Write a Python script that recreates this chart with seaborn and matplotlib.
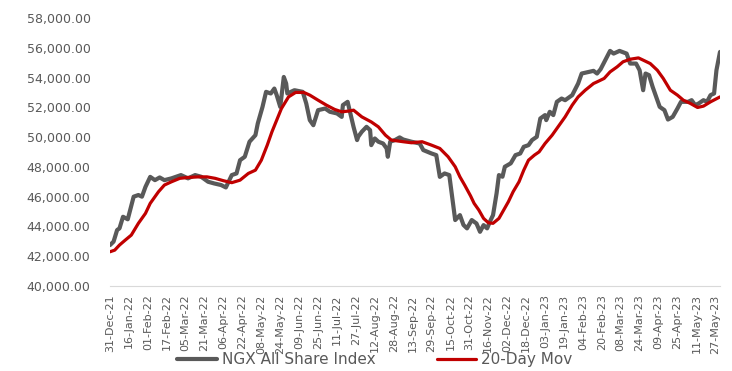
import pandas as pd
import matplotlib
matplotlib.use('Agg')
import matplotlib.pyplot as plt
import matplotlib.dates as mdates
import seaborn as sns

sns.set_style('white')
plt.rcParams['font.family'] = ['DejaVu Sans']

GREY = '#595959'
RED = '#C00000'

# NGX All Share Index
asi_dates = [
    '2021-12-31', '2022-01-03', '2022-01-06', '2022-01-08', '2022-01-11', '2022-01-15',
    '2022-01-20', '2022-01-24', '2022-01-27', '2022-01-30', '2022-02-03', '2022-02-07',
    '2022-02-11', '2022-02-15', '2022-02-21', '2022-03-01', '2022-03-07', '2022-03-13',
    '2022-03-18', '2022-03-24', '2022-03-29', '2022-04-04', '2022-04-08', '2022-04-13',
    '2022-04-17', '2022-04-20', '2022-04-24', '2022-04-28', '2022-05-03', '2022-05-05',
    '2022-05-09', '2022-05-12', '2022-05-16', '2022-05-19', '2022-05-21', '2022-05-24',
    '2022-05-27', '2022-05-29', '2022-05-30', '2022-06-05', '2022-06-12', '2022-06-15',
    '2022-06-18', '2022-06-21', '2022-06-25', '2022-07-01', '2022-07-05', '2022-07-11',
    '2022-07-15', '2022-07-16', '2022-07-20', '2022-07-25', '2022-07-28', '2022-07-29',
    '2022-08-01', '2022-08-05', '2022-08-08', '2022-08-09', '2022-08-12', '2022-08-15',
    '2022-08-19', '2022-08-22', '2022-08-23', '2022-08-25', '2022-08-29', '2022-09-02',
    '2022-09-05', '2022-09-12', '2022-09-19', '2022-09-22', '2022-09-29', '2022-10-03',
    '2022-10-06', '2022-10-10', '2022-10-14', '2022-10-19', '2022-10-23', '2022-10-26',
    '2022-10-29', '2022-11-02', '2022-11-06', '2022-11-09', '2022-11-12', '2022-11-15',
    '2022-11-18', '2022-11-20', '2022-11-23', '2022-11-25', '2022-11-28', '2022-11-30',
    '2022-12-05', '2022-12-09', '2022-12-13', '2022-12-16', '2022-12-20', '2022-12-23',
    '2022-12-27', '2022-12-30', '2023-01-03', '2023-01-04', '2023-01-07', '2023-01-10',
    '2023-01-13', '2023-01-17', '2023-01-20', '2023-01-26', '2023-01-31', '2023-02-03',
    '2023-02-09', '2023-02-13', '2023-02-16', '2023-02-19', '2023-02-23', '2023-02-27',
    '2023-03-02', '2023-03-07', '2023-03-13', '2023-03-16', '2023-03-21', '2023-03-24',
    '2023-03-27', '2023-03-29', '2023-04-01', '2023-04-04', '2023-04-07', '2023-04-10',
    '2023-04-14', '2023-04-17', '2023-04-21', '2023-04-25', '2023-04-28', '2023-05-04',
    '2023-05-07', '2023-05-10', '2023-05-13', '2023-05-17', '2023-05-20', '2023-05-23',
    '2023-05-26', '2023-05-28', '2023-05-31',
]
asi_values = [
    42750, 42980, 43760, 43870, 44650, 44480,
    46000, 46110, 46000, 46660, 47330, 47110,
    47290, 47110, 47230, 47450, 47230, 47450,
    47340, 47000, 46890, 46780, 46620, 47450,
    47560, 48450, 48680, 49690, 50130, 50920,
    52030, 53040, 52930, 53260, 52820, 52030,
    54040, 53600, 52930, 53150, 53040, 52260,
    51140, 50800, 51810, 51920, 51700, 51590,
    51360, 52150, 52370, 50690, 49800, 50030,
    50360, 50690, 50470, 49460, 49910, 49690,
    49570, 49240, 48680, 49690, 49800, 49980,
    49840, 49690, 49570, 49130, 48900, 48790,
    47330, 47560, 47450, 44430, 44760, 44100,
    43870, 44430, 44200, 43640, 44090, 43870,
    44430, 44760, 46220, 47450, 47340, 48010,
    48240, 48790, 48900, 49350, 49460, 49800,
    50020, 51250, 51480, 51140, 51700, 51480,
    52370, 52590, 52480, 52820, 53600, 54270,
    54380, 54450, 54270, 54560, 55170, 55790,
    55610, 55790, 55610, 54940, 54940, 54490,
    53150, 54270, 54160, 53380, 52700, 52030,
    51810, 51180, 51360, 51920, 52370, 52370,
    52480, 52150, 52260, 52480, 52370, 52820,
    52930, 54490, 55720,
]

# 20-day moving average
ma_dates = [
    '2021-12-31', '2022-01-04', '2022-01-08', '2022-01-13', '2022-01-18', '2022-01-24',
    '2022-01-30', '2022-02-03', '2022-02-10', '2022-02-15', '2022-02-21', '2022-02-28',
    '2022-03-07', '2022-03-16', '2022-03-23', '2022-03-30', '2022-04-06', '2022-04-13',
    '2022-04-20', '2022-04-27', '2022-05-03', '2022-05-08', '2022-05-13', '2022-05-17',
    '2022-05-21', '2022-05-25', '2022-05-31', '2022-06-06', '2022-06-13', '2022-06-18',
    '2022-06-25', '2022-07-02', '2022-07-09', '2022-07-15', '2022-07-21', '2022-07-25',
    '2022-08-01', '2022-08-09', '2022-08-15', '2022-08-21', '2022-08-26', '2022-09-05',
    '2022-09-12', '2022-09-21', '2022-09-29', '2022-10-06', '2022-10-13', '2022-10-19',
    '2022-10-23', '2022-10-27', '2022-11-01', '2022-11-04', '2022-11-08', '2022-11-12',
    '2022-11-16', '2022-11-20', '2022-11-25', '2022-11-29', '2022-12-03', '2022-12-07',
    '2022-12-12', '2022-12-16', '2022-12-20', '2022-12-25', '2022-12-29', '2023-01-03',
    '2023-01-09', '2023-01-14', '2023-01-20', '2023-01-26', '2023-01-31', '2023-02-06',
    '2023-02-13', '2023-02-16', '2023-02-22', '2023-02-27', '2023-03-05', '2023-03-10',
    '2023-03-16', '2023-03-23', '2023-03-27', '2023-04-02', '2023-04-08', '2023-04-13',
    '2023-04-19', '2023-04-25', '2023-04-30', '2023-05-06', '2023-05-12', '2023-05-17',
    '2023-05-23', '2023-05-31',
]
ma_values = [
    42300, 42410, 42750, 43090, 43420, 44210,
    44880, 45550, 46330, 46780, 47000, 47230,
    47290, 47330, 47330, 47230, 47070, 46940,
    47110, 47560, 47780, 48450, 49460, 50360,
    51140, 51920, 52700, 53000, 53000, 52820,
    52480, 52150, 51860, 51700, 51750, 51810,
    51360, 51020, 50690, 50130, 49800, 49690,
    49620, 49690, 49460, 49240, 48680, 48010,
    47330, 46780, 46050, 45550, 45100, 44540,
    44250, 44210, 44540, 45100, 45660, 46330,
    47000, 47780, 48450, 48790, 49010, 49570,
    50130, 50690, 51360, 52150, 52700, 53150,
    53600, 53710, 53940, 54380, 54720, 55060,
    55230, 55320, 55170, 54940, 54490, 53940,
    53150, 52820, 52480, 52260, 51990, 52080,
    52370, 52700,
]

yticks = list(range(40000, 58001, 2000))
xtick_start, xtick_end = '2021-12-31', '2023-05-27'

asi = pd.DataFrame({'date': pd.to_datetime(asi_dates), 'value': asi_values})
ma = pd.DataFrame({'date': pd.to_datetime(ma_dates), 'value': ma_values})

fig = plt.figure(figsize=(7.32, 3.71), dpi=100)
ax = fig.add_axes([0.1503, 0.2291, 0.8333, 0.7224])

sns.lineplot(data=asi, x='date', y='value', color=GREY, lw=3.0,
             label='NGX All Share Index', ax=ax)
sns.lineplot(data=ma, x='date', y='value', color=RED, lw=2.3,
             label='20-Day Mov', ax=ax)

ax.set_xlim(pd.Timestamp('2021-12-31'), pd.Timestamp('2023-05-31'))
ax.set_ylim(40000, 58000)
ax.set_yticks(yticks)
ax.set_yticklabels([f'{v:,.2f}' for v in yticks])
ticks = pd.date_range(xtick_start, xtick_end, freq='16D')
ax.set_xticks(ticks)
ax.xaxis.set_major_formatter(mdates.DateFormatter('%d-%b-%y'))
ax.tick_params(axis='x', rotation=90, labelsize=8, colors=GREY, length=4,
               width=0.8, color='#d9d9d9', pad=2)
ax.tick_params(axis='y', labelsize=9, colors=GREY, length=0, pad=14)
ax.set_xlabel('')
ax.set_ylabel('')

sns.despine(ax=ax, left=True)
ax.spines['bottom'].set_color('#d9d9d9')
ax.spines['bottom'].set_linewidth(0.8)

# legend at the bottom edge, kept just inside the figure
ax.get_legend().remove()
handles, labels = ax.get_legend_handles_labels()
fig.legend(handles, labels, loc='center', bbox_to_anchor=(0.512, 0.03), ncol=2,
           frameon=False, fontsize=11, handlelength=2.6, handletextpad=0.3,
           columnspacing=4.0, labelcolor=GREY, borderpad=0.1)

fig.savefig('out.png', dpi=100)
